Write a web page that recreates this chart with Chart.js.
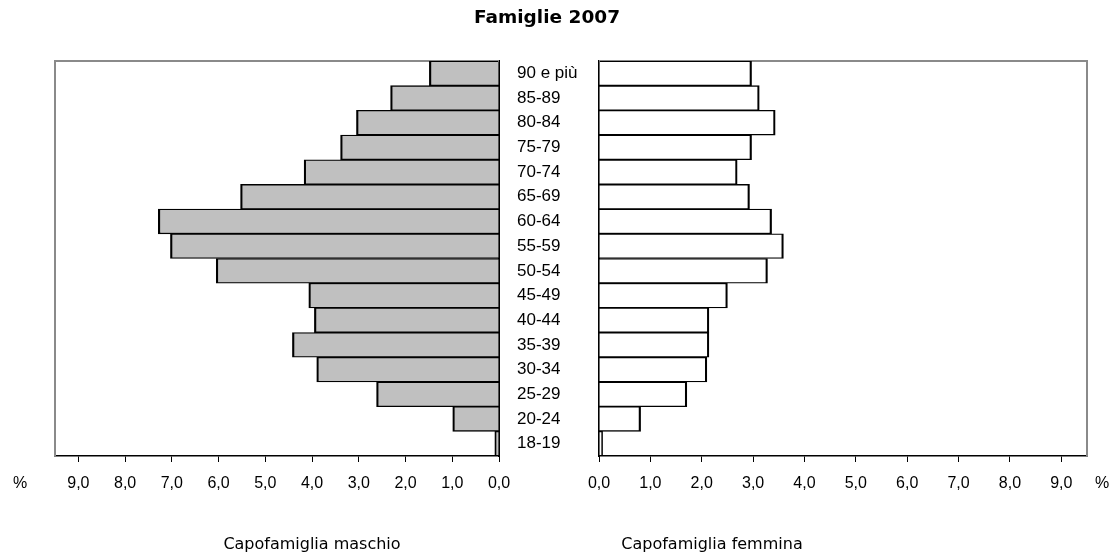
<!DOCTYPE html>
<html><head><meta charset="utf-8">
<script src="https://cdn.jsdelivr.net/npm/chart.js@4/dist/chart.umd.min.js"></script>
<style>
html,body{margin:0;padding:0;background:#fff;}
#wrap{position:relative;width:1119px;height:560px;overflow:hidden;background:#fff;}
canvas{position:absolute;left:0;top:0;}
.t{position:absolute;white-space:nowrap;color:#000;text-align:center;}
</style></head><body>
<div id="wrap">
<canvas id="cm" width="1119" height="560"></canvas>
<canvas id="cf" width="1119" height="560"></canvas>
<div class="t" style="left:0;width:1094px;top:7px;font:bold 18.5px 'DejaVu Sans';line-height:20px;">Famiglie 2007</div>
<div class="t" style="left:0;width:40px;top:473px;font:16px 'Liberation Sans';line-height:20px;">%</div>
<div class="t" style="left:1082px;width:40px;top:473px;font:16px 'Liberation Sans';line-height:20px;">%</div>
<div class="t" style="left:112px;width:400px;top:534px;font:16px 'DejaVu Sans';line-height:20px;">Capofamiglia maschio</div>
<div class="t" style="left:512px;width:400px;top:534px;font:16px 'DejaVu Sans';line-height:20px;">Capofamiglia femmina</div>
</div>
<script>
// Age classes, top to bottom
const categories = ["90 e più","85-89","80-84","75-79","70-74","65-69","60-64","55-59","50-54","45-49","40-44","35-39","30-34","25-29","20-24","18-19"];
// Capofamiglia maschio (%)
const maschi = [1.49, 2.32, 3.05, 3.39, 4.17, 5.53, 7.29, 7.03, 6.05, 4.07, 3.95, 4.42, 3.90, 2.62, 0.99, 0.09];
// Capofamiglia femmina (%)
const femmine = [2.97, 3.12, 3.43, 2.97, 2.69, 2.93, 3.36, 3.59, 3.28, 2.50, 2.14, 2.14, 2.10, 1.71, 0.81, 0.07];
// x-axis tick values
const tickValues = [0,1,2,3,4,5,6,7,8,9];
const axisMax = 9.5;

const fmt = v => Number(v).toFixed(1).replace('.', ',');

const framePlugin = {
  id: 'frame',
  beforeDatasetsDraw(chart, args, opts) {
    const {ctx, chartArea: a} = chart;
    ctx.save();
    ctx.strokeStyle = '#8a8a8a';
    ctx.lineWidth = 2;
    ctx.beginPath();
    ctx.moveTo(a.left, a.top); ctx.lineTo(a.right, a.top);
    if (opts.side === 'left') { ctx.moveTo(a.left, a.top - 1); ctx.lineTo(a.left, a.bottom); }
    else { ctx.moveTo(a.right, a.top - 1); ctx.lineTo(a.right, a.bottom); }
    ctx.stroke();
    ctx.restore();
  }
};

function makeChart(id, values, color, isLeft) {
  const yWidth = isLeft ? 95 : 0;
  return new Chart(document.getElementById(id), {
    type: 'bar',
    data: {
      labels: categories,
      datasets: [{
        data: values,
        backgroundColor: color,
        borderColor: '#000',
        borderWidth: {top: 1.3, bottom: 1.3, left: 2.2, right: 2.2},
        borderSkipped: 'start',
        barPercentage: 1,
        categoryPercentage: 1
      }]
    },
    plugins: [framePlugin],
    options: {
      indexAxis: 'y',
      responsive: false,
      animation: false,
      events: [],
      devicePixelRatio: 1,
      layout: { padding: isLeft ? {left: 55, top: 61, right: 620 - yWidth, bottom: 64}
                                : {left: 599, top: 61, right: 32, bottom: 64} },
      plugins: {
        legend: {display: false},
        tooltip: {enabled: false},
        title: {display: false},
        frame: {side: isLeft ? 'left' : 'right'}
      },
      scales: {
        x: {
          type: 'linear',
          reverse: isLeft,
          min: 0,
          max: axisMax,
          afterBuildTicks: axis => { axis.ticks = tickValues.map(v => ({value: v})); },
          afterFit: axis => { axis.height = 40; },
          grid: {drawOnChartArea: false, drawTicks: true, tickLength: 6, color: '#000', lineWidth: 1},
          border: {display: true, color: '#000', width: 1.5},
          ticks: {
            color: '#000',
            font: {family: 'Liberation Sans', size: 16},
            padding: 12,
            maxRotation: 0,
            autoSkip: false,
            callback: v => fmt(v)
          }
        },
        y: {
          position: isLeft ? 'right' : 'left',
          afterFit: axis => { axis.width = yWidth; },
          grid: {display: false, drawTicks: false},
          border: {display: true, color: '#000', width: 2},
          ticks: {
            display: isLeft,
            color: '#000',
            font: {family: 'Liberation Sans', size: 17},
            padding: 18,
            autoSkip: false
          }
        }
      }
    }
  });
}

makeChart('cm', maschi, '#C0C0C0', true);
makeChart('cf', femmine, '#FFFFFF', false);
</script>
</body></html>
